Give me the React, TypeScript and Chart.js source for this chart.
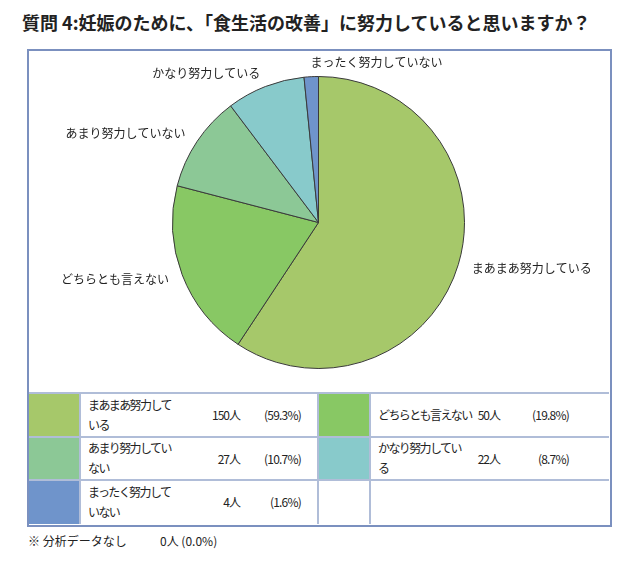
import React, { useEffect, useRef } from "react";
import { Chart, registerables } from "chart.js";

Chart.register(...registerables);

const titleText = "質問 4:妊娠のために、「食生活の改善」に努力していると思いますか？";
const categories = [
  "まあまあ努力している",
  "どちらとも言えない",
  "あまり努力していない",
  "かなり努力している",
  "まったく努力していない",
];
const counts = [150, 50, 27, 22, 4];
const percents = ["59.3%", "19.8%", "10.7%", "8.7%", "1.6%"];
const colors = ["#A6C86A", "#88C864", "#8CC896", "#88CACB", "#6F94CB"];
const legendLines = [
  ["まあまあ努力して", "いる"],
  ["どちらとも言えない"],
  ["あまり努力してい", "ない"],
  ["かなり努力してい", "る"],
  ["まったく努力して", "いない"],
];
const legendGrid: (number | null)[][] = [
  [0, 1],
  [2, 3],
  [4, null],
];
const footLabel = "※ 分析データなし";
const footCount = 0;
const footPercent = "0.0%";

const FONT = '"Noto Sans CJK JP", "Noto Sans", sans-serif';

const outsideLabels = {
  id: "outsideLabels",
  afterDatasetsDraw(chart: any) {
    const ctx = chart.ctx;
    const meta = chart.getDatasetMeta(0);
    ctx.save();
    ctx.font = `12px ${FONT}`;
    ctx.fillStyle = "#222";
    ctx.textBaseline = "middle";
    meta.data.forEach((arc: any, i: number) => {
      const p = arc.getProps(["x", "y", "startAngle", "endAngle", "outerRadius"], true);
      const mid = (p.startAngle + p.endAngle) / 2;
      const r = p.outerRadius + 14;
      const lx = p.x + Math.cos(mid) * r;
      const ly = p.y + Math.sin(mid) * r;
      ctx.textAlign = lx < p.x - 20 ? "right" : "left";
      ctx.fillText(chart.data.labels[i], lx, ly);
    });
    ctx.restore();
  },
};

const BOX_L = 28, BOX_T = 50, BOX_R = 609, BOX_B = 524;
const TABLE_T = 393;
const ROW_H = 43.5;
const COLS = [28, 80, 318, 370, 609];
const LINE = "#b0bdd8";

function LegendCell({ idx, x0, x1, y0, y1, countRight, pctRight }: any) {
  const cells: any[] = [];
  if (idx !== null) {
    cells.push(
      <div key="sw" style={{ position: "absolute", left: x0, top: y0, width: x1 - x0, height: y1 - y0, background: colors[idx] }} />
    );
    const lines = legendLines[idx];
    cells.push(
      <div key="lb" style={{ position: "absolute", left: x1 + 8, top: y0, height: y1 - y0, display: "flex", flexDirection: "column", justifyContent: "center", fontSize: 12, lineHeight: "20px", letterSpacing: "-1.6px", whiteSpace: "nowrap", color: "#222" }}>
        {lines.map((l: string, k: number) => (<div key={k}>{l}</div>))}
      </div>
    );
    cells.push(
      <div key="ct" style={{ position: "absolute", left: countRight - 60, width: 60, top: y0, height: y1 - y0, display: "flex", alignItems: "center", justifyContent: "flex-end", fontSize: 12, letterSpacing: "-1px", color: "#222" }}>
        {counts[idx]}人
      </div>
    );
    cells.push(
      <div key="pc" style={{ position: "absolute", left: pctRight - 60, width: 60, top: y0, height: y1 - y0, display: "flex", alignItems: "center", justifyContent: "flex-end", fontSize: 12, letterSpacing: "-0.8px", color: "#222" }}>
        ({percents[idx]})
      </div>
    );
  }
  return <>{cells}</>;
}

export default function App() {
  const ref = useRef<HTMLCanvasElement>(null);
  useEffect(() => {
    const chart = new Chart(ref.current!, {
      type: "pie",
      data: {
        labels: categories,
        datasets: [
          {
            data: counts,
            backgroundColor: colors,
            borderColor: "#3a3a3a",
            borderWidth: 1,
          },
        ],
      },
      options: {
        responsive: false,
        animation: false,
        layout: { padding: { top: 24, bottom: 24, left: 0, right: 0 } },
        plugins: { legend: { display: false }, tooltip: { enabled: false } },
      },
      plugins: [outsideLabels],
    });
    return () => chart.destroy();
  }, []);

  const rows = legendGrid.map((row, r) => {
    const y0 = TABLE_T + r * ROW_H;
    const y1 = y0 + ROW_H;
    return (
      <React.Fragment key={r}>
        <LegendCell idx={row[0]} x0={COLS[0]} x1={COLS[1]} y0={y0} y1={y1} countRight={240} pctRight={301} />
        <LegendCell idx={row[1]} x0={COLS[2]} x1={COLS[3]} y0={y0} y1={y1} countRight={500} pctRight={569} />
      </React.Fragment>
    );
  });

  const hLines = [0, 1, 2].map((r) => (
    <div key={"h" + r} style={{ position: "absolute", left: BOX_L, top: TABLE_T + r * ROW_H - 1, width: BOX_R - BOX_L, height: 2, background: LINE }} />
  ));
  const vLines = [1, 2, 3].map((c) => (
    <div key={"v" + c} style={{ position: "absolute", left: COLS[c] - 1, top: TABLE_T, width: 2, height: BOX_B - TABLE_T, background: LINE }} />
  ));

  return (
    <div style={{ position: "relative", width: 640, height: 568, margin: -8, background: "#fff", fontFamily: FONT, overflow: "hidden" }}>
      <div style={{ position: "absolute", left: 22, top: 12, fontSize: 18, lineHeight: "20px", fontWeight: "bold", color: "#222", whiteSpace: "nowrap", letterSpacing: "0px" }}>
        {titleText}
      </div>
      <canvas ref={ref} width={577} height={341} style={{ position: "absolute", left: 30, top: 52 }} />
      {rows}
      {hLines}
      {vLines}
      <div style={{ position: "absolute", left: BOX_L - 1, top: BOX_T - 1, width: BOX_R - BOX_L, height: BOX_B - BOX_T, border: "2px solid #7b90bf" }} />
      <div style={{ position: "absolute", left: 28, top: 533, fontSize: 12, lineHeight: "16px", letterSpacing: "0px", color: "#222", whiteSpace: "nowrap" }}>
        {footLabel}
      </div>
      <div style={{ position: "absolute", left: 160, top: 533, fontSize: 12, lineHeight: "16px", letterSpacing: "0px", color: "#222", whiteSpace: "nowrap" }}>
        {footCount}人 ({footPercent})
      </div>
    </div>
  );
}
